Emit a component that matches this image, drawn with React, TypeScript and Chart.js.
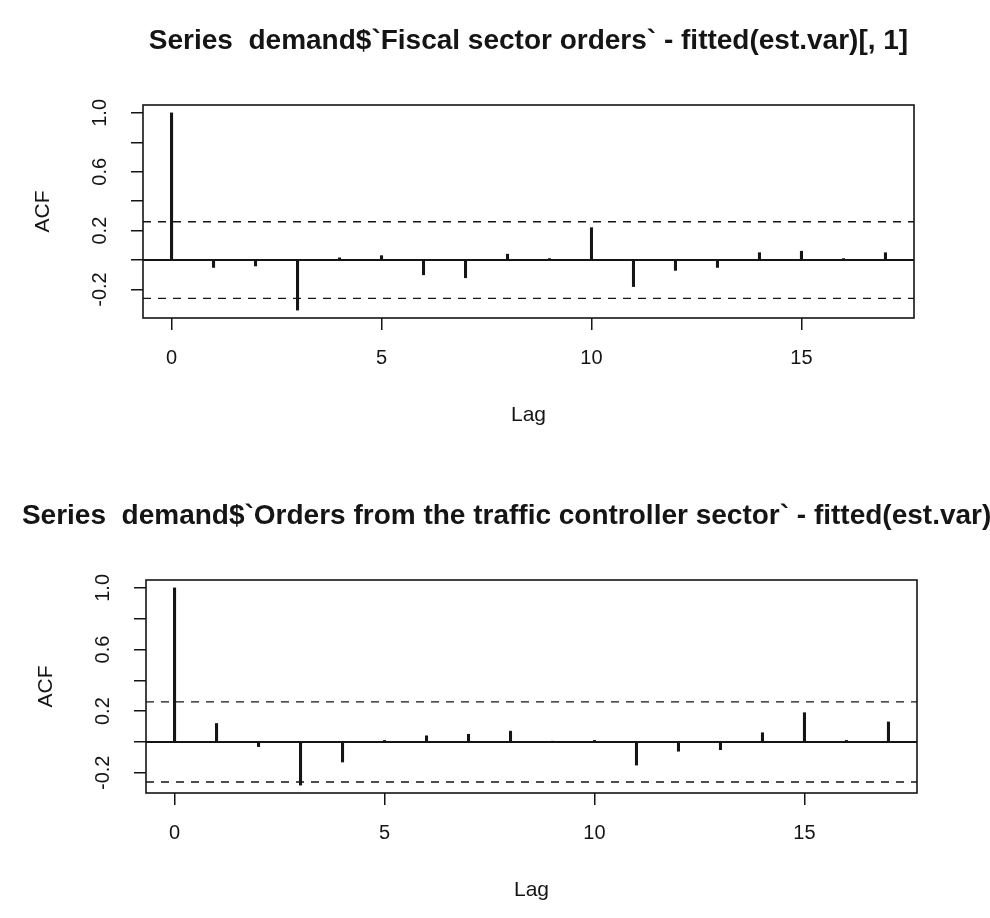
import React, { useEffect, useRef } from "react";
import { Chart, registerables } from "chart.js";

Chart.register(...registerables);

// ---- data ----
const lags = [0, 1, 2, 3, 4, 5, 6, 7, 8, 9, 10, 11, 12, 13, 14, 15, 16, 17];
const fiscalAcf = [1.0, -0.05, -0.04, -0.34, 0.015, 0.03, -0.1, -0.12, 0.04, 0.01, 0.22, -0.18, -0.07, -0.05, 0.05, 0.06, 0.01, 0.05];
const trafficAcf = [1.0, 0.12, -0.03, -0.28, -0.13, 0.01, 0.04, 0.05, 0.07, 0.005, 0.01, -0.15, -0.06, -0.05, 0.06, 0.19, 0.01, 0.13];
const ciBound = 0.26;
const xTickValues = [0, 5, 10, 15];
const xTickLabels = ["0", "5", "10", "15"];
const yTickValues = [-0.2, 0, 0.2, 0.4, 0.6, 0.8, 1.0];
const yLabelValues = [-0.2, 0.2, 0.6, 1.0];
const yLabelTexts = ["-0.2", "0.2", "0.6", "1.0"];
const titles = [
  "Series  demand$`Fiscal sector orders` - fitted(est.var)[, 1]",
  "Series  demand$`Orders from the traffic controller sector` - fitted(est.var)[, 2]",
];
const xAxisTitle = "Lag";
const yAxisTitle = "ACF";

const INK = "#151515";
const FONT = '"Liberation Sans", Arial, Helvetica, sans-serif';

type PanelProps = {
  acf: number[];
  title: string;
  padding: { left: number; right: number; top: number; bottom: number };
};

function Panel({ acf, title, padding }: PanelProps) {
  const ref = useRef<HTMLCanvasElement | null>(null);

  useEffect(() => {
    if (!ref.current) return;
    const n = lags.length;
    const xr = lags[n - 1] - lags[0];
    const xMin = lags[0] - 0.04 * xr;
    const xMax = lags[n - 1] + 0.04 * xr;
    const lo = Math.min(...acf, -ciBound);
    const hi = Math.max(...acf, ciBound);
    const yr = hi - lo;
    const yMin = lo - 0.04 * yr;
    const yMax = hi + 0.04 * yr;

    const textPlugin = {
      id: "rText",
      afterDraw(chart: any) {
        const ctx = chart.ctx as CanvasRenderingContext2D;
        const a = chart.chartArea;
        const xs = chart.scales.x;
        const ys = chart.scales.y;
        ctx.save();
        // box
        ctx.strokeStyle = INK;
        ctx.lineWidth = 1.6;
        ctx.strokeRect(a.left, a.top, a.right - a.left, a.bottom - a.top);
        ctx.fillStyle = INK;
        // title
        ctx.font = `bold 28px ${FONT}`;
        ctx.textAlign = "center";
        ctx.textBaseline = "middle";
        ctx.fillText(title, (a.left + a.right) / 2, a.top - 64);
        // x tick labels
        ctx.font = `20px ${FONT}`;
        xTickValues.forEach((v, i) => {
          ctx.fillText(xTickLabels[i], xs.getPixelForValue(v), a.bottom + 40);
        });
        // x axis title
        ctx.font = `21px ${FONT}`;
        ctx.fillText(xAxisTitle, (a.left + a.right) / 2, a.bottom + 97);
        // y tick labels (rotated)
        ctx.font = `20px ${FONT}`;
        yLabelValues.forEach((v, i) => {
          ctx.save();
          ctx.translate(a.left - 43, ys.getPixelForValue(v));
          ctx.rotate(-Math.PI / 2);
          ctx.fillText(yLabelTexts[i], 0, 0);
          ctx.restore();
        });
        // y axis title
        ctx.font = `21px ${FONT}`;
        ctx.save();
        ctx.translate(a.left - 100, (a.top + a.bottom) / 2);
        ctx.rotate(-Math.PI / 2);
        ctx.fillText(yAxisTitle, 0, 0);
        ctx.restore();
        ctx.restore();
      },
    };

    const chart = new Chart(ref.current, {
      type: "bar",
      data: {
        datasets: [
          {
            type: "line",
            data: [
              { x: xMin, y: 0 },
              { x: xMax, y: 0 },
            ],
            borderColor: INK,
            borderWidth: 2,
            pointRadius: 0,
          } as any,
          {
            type: "line",
            data: [
              { x: xMin, y: ciBound },
              { x: xMax, y: ciBound },
            ],
            borderColor: INK,
            borderWidth: 1.4,
            borderDash: [8, 7],
            pointRadius: 0,
          } as any,
          {
            type: "line",
            data: [
              { x: xMin, y: -ciBound },
              { x: xMax, y: -ciBound },
            ],
            borderColor: INK,
            borderWidth: 1.4,
            borderDash: [8, 7],
            pointRadius: 0,
          } as any,
          {
            type: "bar",
            data: lags.map((l, i) => ({ x: l, y: acf[i] })),
            backgroundColor: INK,
            borderWidth: 0,
            barThickness: 2.4,
          } as any,
        ],
      },
      options: {
        animation: false,
        responsive: false,
        devicePixelRatio: 1,
        layout: { padding },
        plugins: { legend: { display: false }, tooltip: { enabled: false }, title: { display: false } },
        scales: {
          x: {
            type: "linear",
            min: xMin,
            max: xMax,
            offset: false,
            afterBuildTicks: (s: any) => {
              s.ticks = xTickValues.map((v) => ({ value: v }));
            },
            ticks: { display: false },
            border: { display: false },
            grid: {
              offset: false,
              drawOnChartArea: false,
              drawTicks: true,
              tickLength: 12,
              color: INK,
              lineWidth: 1.5,
            },
          },
          y: {
            type: "linear",
            min: yMin,
            max: yMax,
            afterBuildTicks: (s: any) => {
              s.ticks = yTickValues.map((v) => ({ value: v }));
            },
            ticks: { display: false },
            border: { display: false },
            grid: {
              drawOnChartArea: false,
              drawTicks: true,
              tickLength: 12,
              color: INK,
              lineWidth: 1.5,
            },
          },
        },
      } as any,
      plugins: [textPlugin],
    });
    return () => chart.destroy();
  }, [acf, title, padding]);

  return <canvas ref={ref} width={990} height={459} style={{ display: "block", width: 990, height: 459 }} />;
}

const pad1 = { left: 131, right: 76, top: 105, bottom: 129 };
const pad2 = { left: 134, right: 73, top: 121, bottom: 113 };

export default function App() {
  return (
    <div style={{ position: "fixed", left: 0, top: 0, width: 990, height: 918, background: "#fff", overflow: "hidden" }}>
      <Panel acf={fiscalAcf} title={titles[0]} padding={pad1} />
      <Panel acf={trafficAcf} title={titles[1]} padding={pad2} />
    </div>
  );
}
